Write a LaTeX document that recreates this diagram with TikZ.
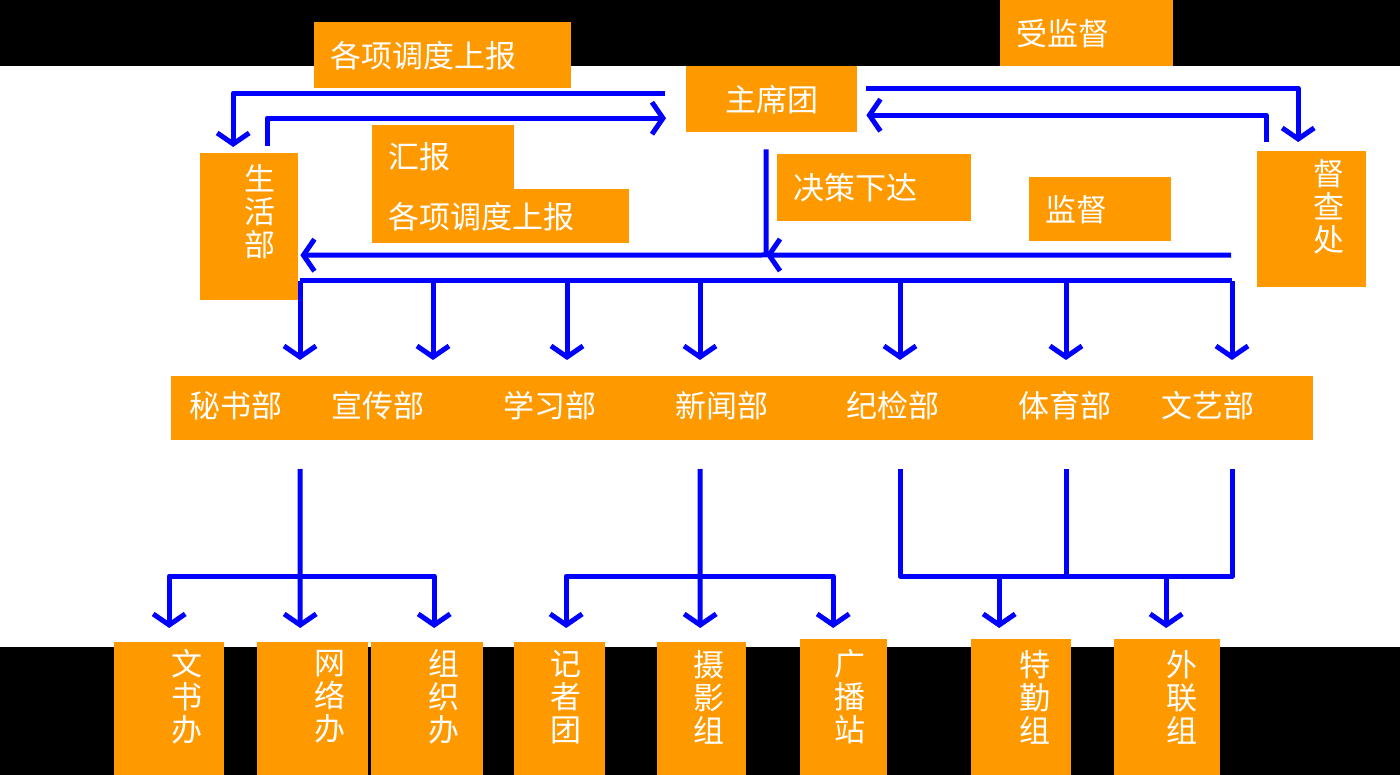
\documentclass[tikz,border=0pt]{standalone}
\usepackage{fontspec}
\newfontfamily\cjk{Noto Sans CJK SC}
\usetikzlibrary{arrows.meta}
\definecolor{orng}{RGB}{255,153,0}
\definecolor{flowblue}{RGB}{0,0,255}
\tikzset{
  box/.style={fill=orng, inner sep=0pt, anchor=north west, text=white,
    font=\cjk\fontsize{31pt}{33pt}\selectfont},
  hbox/.style={box, inner xsep=16pt, align=left},
  lbl/.style={text=white, inner sep=0pt, align=center,
    font=\cjk\fontsize{31pt}{33pt}\selectfont},
  flow/.style={draw=flowblue, line width=5pt, line join=round},
  >={Straight Barb[length=11pt,width=32pt]}
}
\begin{document}
\begin{tikzpicture}[x=1pt,y=-1pt]
  \useasboundingbox (0,0) rectangle (1400,775);
  \fill[white] (0,0) rectangle (1400,775);
  \fill[black] (0,0) rectangle (1400,66);
  \fill[black] (0,647) rectangle (1400,775);

  % upper boxes
  \node[hbox, text width=225, minimum height=66] (gx1) at (314,22) {各项调度上报};
  \node[hbox, text width=141, minimum height=66] (sjd) at (1000,0) {受监督};
  \node[hbox, text width=139, minimum height=66, align=center] (zxt) at (686,66) {主席团};
  \node[hbox, text width=110, minimum height=64] (hb) at (372,125) {汇报};
  \node[hbox, text width=225, minimum height=54] (gx2) at (372,189) {各项调度上报};
  \node[hbox, text width=162, minimum height=67] (jc) at (777,154) {决策下达};
  \node[hbox, text width=110, minimum height=64] (jd) at (1029,177) {监督};
  \node[box, minimum width=98, minimum height=147] (shb) at (200,153) {};
  \node[lbl] (shb-t) at (260,212) {生\\活\\部};
  \node[box, minimum width=109, minimum height=136] (dcc) at (1257,151) {};
  \node[lbl] (dcc-t) at (1329,207) {督\\查\\处};

  % departments
  \node[box, minimum width=1142, minimum height=64] (bar) at (171,376) {};
  \foreach \x/\n/\t in {236/msb/秘书部, 378/xcb/宣传部, 550/xxb/学习部,
      722/xwb/新闻部, 893/jjb/纪检部, 1065/tyb/体育部, 1208/wyb/文艺部}
    \node[lbl] (\n) at (\x,406) {\t};

  % groups
  \foreach \n/\x/\w/\y/\tx/\t in {wsb/114/110/642/187/文\\书\\办,
      wlb/257/111/642/330/网\\络\\办, zzb/371/112/642/444/组\\织\\办,
      jzt/514/91/642/566/记\\者\\团, syz/657/89/642/709/摄\\影\\组,
      gbz/800/87/639/850/广\\播\\站, tqz/971/100/639/1035/特\\勤\\组,
      wlz/1114/106/639/1182/外\\联\\组}
  {
    \node[box, minimum width=\w, minimum height={775-\y}] (\n) at (\x,\y) {};
    \node[lbl] (\n-t) at (\tx,697) {\t};
  }

  % 主席团 and 生活部, 督查处
  \draw[flow,->] ([xshift=-21pt,yshift=6pt]zxt.west) -| ([xshift=-16pt,yshift=6pt]shb.north);
  \draw[flow,->] ([xshift=18pt,yshift=7pt]shb.north) |- ([xshift=-20pt,yshift=-19pt]zxt.west);
  \draw[flow,->] ([xshift=9pt,yshift=11pt]zxt.east) -| ([xshift=-13.5pt,yshift=9pt]dcc.north);
  \draw[flow,->] ([xshift=-45.5pt,yshift=9pt]dcc.north) |- ([xshift=9pt,yshift=-16pt]zxt.east);

  % 决策下达, 监督
  \coordinate (hub) at (766,255);
  \draw[flow,->] ([xshift=-5.5pt,yshift=-17pt]zxt.south) -- (hub)
    -- ([xshift=2pt,yshift=-28.5pt]shb.east);
  \draw[flow,->] ([xshift=-26pt,yshift=-36pt]dcc.west) -- (hub);

  % bus to departments
  \coordinate (bus-l) at (300,281);
  \coordinate (bus-r) at (1232,281);
  \draw[flow] (bus-l) -- (bus-r);
  \foreach \x in {300,433,567,700,900,1066,1232}
    \draw[flow,->,shorten >=16pt] (bus-l -| \x,0) -- (\x,0 |- bar.north);

  % departments to groups
  \coordinate (msb-s) at (300,469);
  \coordinate (xwb-s) at (700,469);
  \coordinate (jjb-s) at (900,469);
  \coordinate (tyb-s) at (1066,469);
  \coordinate (wyb-s) at (1232,469);
  \coordinate (msb-j) at (300,576);
  \coordinate (xwb-j) at (700,576);
  \coordinate (tyb-j) at (1066,576);
  \draw[flow,->] (msb-s) -- ([xshift=-12.5pt,yshift=14pt]wlb.north);
  \draw[flow,<->] ([yshift=14pt]wsb.north) |- (msb-j) -| ([xshift=7pt,yshift=14pt]zzb.north);
  \draw[flow,->] (xwb-s) -- ([xshift=-1.5pt,yshift=14pt]syz.north);
  \draw[flow,<->] ([xshift=6.5pt,yshift=14pt]jzt.north) |- (xwb-j) -| ([xshift=-10.5pt,yshift=11pt]gbz.north);
  \draw[flow] (jjb-s) |- (tyb-j) -| (wyb-s);
  \draw[flow] (tyb-s) -- (tyb-j);
  \draw[flow,<-] ([xshift=-22pt,yshift=11pt]tqz.north) -- ++(0,-52);
  \draw[flow,<-] ([xshift=-1pt,yshift=11pt]wlz.north) -- ++(0,-52);
\end{tikzpicture}
\end{document}
